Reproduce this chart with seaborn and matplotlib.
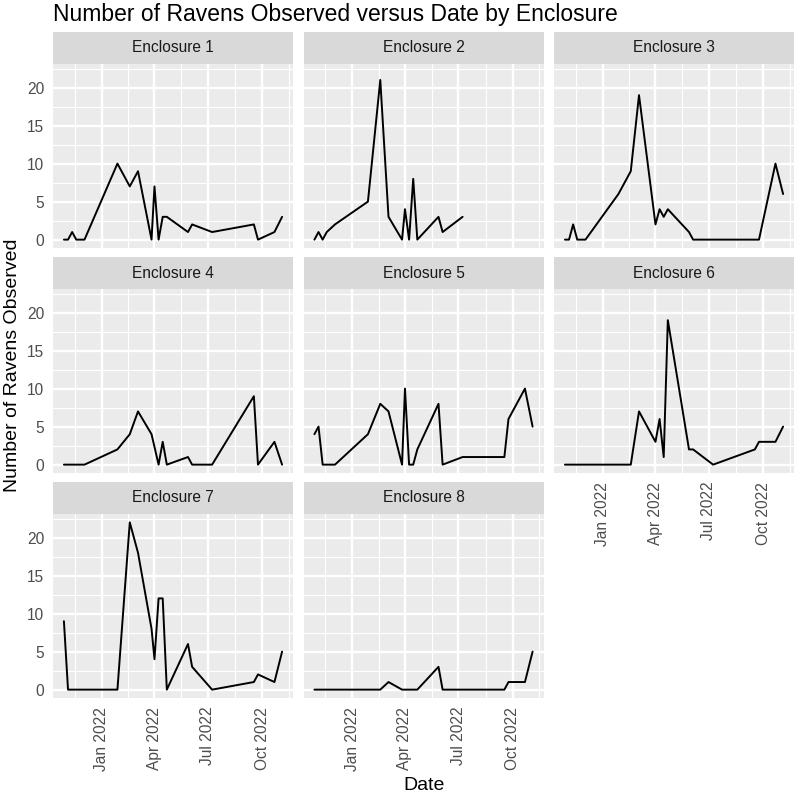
import matplotlib
matplotlib.use("Agg")
import matplotlib.pyplot as plt
import matplotlib.dates as mdates
import numpy as np
import pandas as pd
import seaborn as sns

# survey dates shared by all enclosures
survey_dates = [
    "2021-10-29", "2021-11-05", "2021-11-12", "2021-11-19", "2021-12-03",
    "2022-01-28", "2022-02-18", "2022-03-04", "2022-03-27", "2022-04-01",
    "2022-04-08", "2022-04-15", "2022-04-22", "2022-05-28", "2022-06-04",
    "2022-07-08", "2022-09-17", "2022-09-24", "2022-10-22", "2022-11-04",
]

# ravens counted per survey (None = no survey for that enclosure)
enclosure_1 = [0, 0, 1, 0, 0, 10, 7, 9, 0, 7, 0, 3, 3, 1, 2, 1, 2, 0, 1, 3]
enclosure_2 = [0, 1, 0, 1, 2, 5, 21, 3, 0, 4, 0, 8, 0, 3, 1, 3, None, None, None, None]
enclosure_3 = [0, 0, 2, 0, 0, 6, 9, 19, None, 2, 4, 3, 4, 1, 0, 0, 0, 0, 10, 6]
enclosure_4 = [0, 0, 0, 0, 0, 2, 4, 7, 4, None, 0, 3, 0, 1, 0, 0, 9, 0, 3, 0]
enclosure_5 = [4, 5, 0, 0, 0, 4, 8, 7, 0, 10, 0, 0, 2, 8, 0, 1, 1, 6, 10, 5]
enclosure_6 = [0, 0, 0, 0, 0, 0, 0, 7, None, 3, 6, 1, 19, 2, 2, 0, 2, 3, 3, 5]
enclosure_7 = [9, 0, 0, 0, 0, 0, 22, 18, 8, 4, 12, 12, 0, 6, 3, 0, 1, 2, 1, 5]
enclosure_8 = [0, 0, 0, 0, 0, 0, 0, 1, 0, 0, 0, 0, 0, 3, 0, 0, 0, 1, 1, 5]

enclosure_names = ["Enclosure %d" % i for i in range(1, 9)]
counts = [enclosure_1, enclosure_2, enclosure_3, enclosure_4,
          enclosure_5, enclosure_6, enclosure_7, enclosure_8]

x_breaks = ["2022-01-01", "2022-04-01", "2022-07-01", "2022-10-01"]
y_breaks = [0, 5, 10, 15, 20]

frames = []
for name, vals in zip(enclosure_names, counts):
    frames.append(pd.DataFrame({"enclosure": name,
                                "date": pd.to_datetime(survey_dates),
                                "ravens": vals}))
ravens = pd.concat(frames).dropna()
ravens["ravens"] = ravens["ravens"].astype(float)

sns.set_theme(style="darkgrid", rc={
    "axes.facecolor": "#EBEBEB",
    "grid.color": "white",
    "figure.facecolor": "white",
})
plt.rcParams["font.family"] = ["Liberation Sans", "DejaVu Sans"]

W, H = 800, 796
fig = plt.figure(figsize=(W / 100, H / 100), dpi=100)


def rect(x, y, w, h):
    return [x / W, 1 - (y + h) / H, w / W, h / H]


col_left = [53, 303.5, 554]
row_top = [32, 257, 482]
pw, strip_h, ph = 240, 32, 184

# ggplot-like scale expansion (5%)
dn = mdates.date2num(ravens["date"])
xr = dn.max() - dn.min()
xlim = (dn.min() - 0.05 * xr, dn.max() + 0.05 * xr)
yr = ravens["ravens"].max() - ravens["ravens"].min()
ylim = (ravens["ravens"].min() - 0.05 * yr, ravens["ravens"].max() + 0.05 * yr)

major_x = mdates.date2num(pd.to_datetime(x_breaks))
step = np.diff(major_x).mean()
minor_x = np.concatenate([[major_x[0] - step / 2], (major_x[:-1] + major_x[1:]) / 2,
                          [major_x[-1] + step / 2]])
minor_y = [2.5, 7.5, 12.5, 17.5, 22.5]

tick_col = "#4D4D4D"
for i, name in enumerate(enclosure_names):
    r, c = divmod(i, 3)
    x0, y0 = col_left[c], row_top[r]
    ax = fig.add_axes(rect(x0, y0 + strip_h, pw, ph))
    sub = ravens[ravens["enclosure"] == name]
    sns.lineplot(data=sub, x="date", y="ravens", ax=ax, color="black",
                 linewidth=1.4, estimator=None, errorbar=None)
    ax.set_xlim(xlim)
    ax.set_ylim(ylim)
    ax.set_xticks(major_x)
    ax.set_xticks(minor_x, minor=True)
    ax.set_yticks(y_breaks)
    ax.set_yticks(minor_y, minor=True)
    ax.grid(which="major", color="white", linewidth=1.7)
    ax.grid(which="minor", color="white", linewidth=0.85)
    ax.set_axisbelow(True)
    for s in ax.spines.values():
        s.set_visible(False)
    ax.set_xlabel("")
    ax.set_ylabel("")
    ax.tick_params(which="minor", length=0)
    ax.tick_params(which="major", direction="out", length=3.5, width=1.35,
                   color="#333333", labelcolor=tick_col, labelsize=11.2, pad=2.8)
    ax.xaxis.set_major_formatter(mdates.DateFormatter("%b %Y"))
    if c != 0:
        ax.tick_params(axis="y", length=0, labelleft=False)
    show_x = (r == 2) or (i == 5)
    if show_x:
        for lab in ax.get_xticklabels():
            lab.set_rotation(90)
    else:
        ax.tick_params(axis="x", length=0, labelbottom=False)

    sax = fig.add_axes(rect(x0, y0, pw, strip_h))
    sax.set_facecolor("#D9D9D9")
    sax.set_xticks([])
    sax.set_yticks([])
    sax.grid(False)
    for s in sax.spines.values():
        s.set_visible(False)
    sax.text(0.5, 0.5, name, ha="center", va="center", fontsize=11.2,
             color="#1A1A1A", transform=sax.transAxes)

fig.text(53 / W, 1 - 3 / H, "Number of Ravens Observed versus Date by Enclosure",
         ha="left", va="top", fontsize=16.5, color="black")
fig.text(13 / W, 1 - 365 / H, "Number of Ravens Observed", rotation=90,
         ha="center", va="center", fontsize=14, color="black")
fig.text(424 / W, 1 - 785 / H, "Date", ha="center", va="center",
         fontsize=14, color="black")

fig.savefig("out.png", dpi=100)
